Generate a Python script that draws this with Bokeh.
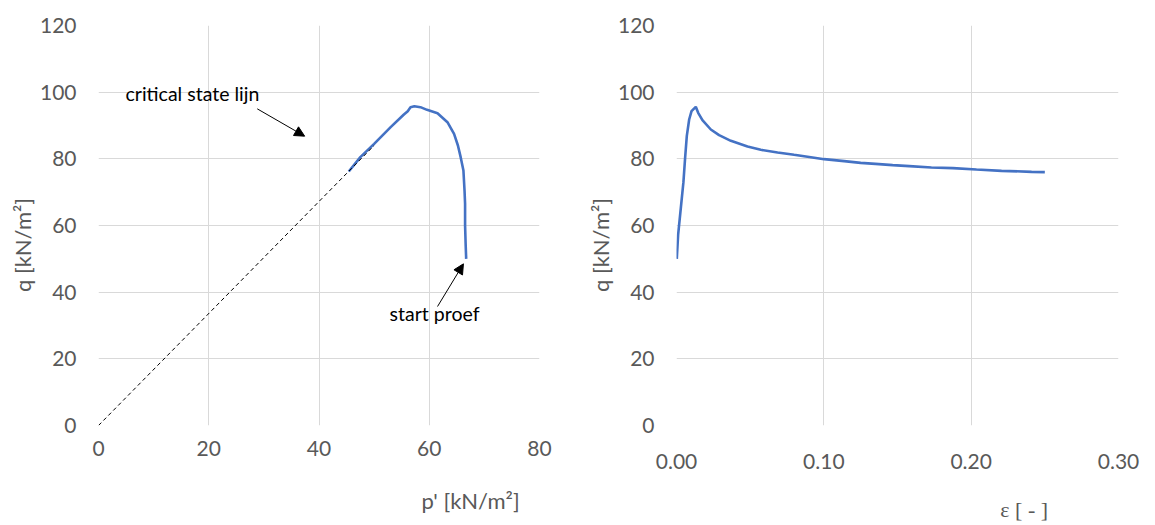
from bokeh.plotting import figure
from bokeh.layouts import row
from bokeh.models import (Range1d, FixedTicker, Label, Arrow, NormalHead,
                          NumeralTickFormatter, LinearAxis)
from bokeh.embed import file_html
from bokeh.resources import INLINE

# Stress path in p'-q space
path_p = [66.7, 66.6, 66.5, 66.5, 66.4, 66.2, 65.7, 65.2, 64.5, 63.3, 61.5, 59.6,
          58.4, 57.3, 56.6, 56.1, 55.4, 53.0, 50.0, 47.5, 45.4]
path_q = [50.0, 54.5, 60.0, 66.5, 70.5, 76.5, 80.5, 84.0, 87.5, 91.0, 93.7, 94.7,
          95.5, 95.8, 95.5, 94.3, 93.3, 89.5, 84.5, 80.5, 76.2]

# Critical state line through the origin
csl_p = [0, 50]
csl_q = [0, 84]

# Deviator stress versus axial strain
strain = [0.0002, 0.0011, 0.0029, 0.0047, 0.0058, 0.0070, 0.0086, 0.0102, 0.0131,
          0.0147, 0.0176, 0.0233, 0.0289, 0.0369, 0.0482, 0.0572, 0.0686, 0.0798,
          0.0912, 0.1002, 0.1138, 0.125, 0.135, 0.1467, 0.158, 0.173, 0.1876,
          0.2036, 0.2206, 0.241, 0.250]
strain_q = [50.0, 57.2, 65.1, 73.0, 80.0, 86.9, 91.8, 94.3, 95.6, 93.8, 91.6, 88.8,
            87.1, 85.4, 83.7, 82.7, 81.9, 81.2, 80.5, 79.9, 79.3, 78.8, 78.5, 78.1,
            77.8, 77.4, 77.2, 76.8, 76.4, 76.1, 76.0]

q_ticks = [0, 20, 40, 60, 80, 100, 120]
p_ticks = [0, 20, 40, 60, 80]
strain_ticks = [0.0, 0.1, 0.2, 0.3]

BLUE = "#4472C4"
GREY = "#595959"
GRID = "#d9d9d9"
FONT = "Lato"


def bare(ax):
    ax.axis_line_color = None
    ax.major_tick_line_color = None
    ax.minor_tick_line_color = None
    ax.major_tick_out = 0
    ax.major_tick_in = 0
    ax.minor_tick_out = 0
    ax.minor_tick_in = 0
    ax.major_label_text_color = GREY


def style(p, x_ticks, x_standoff):
    p.xaxis.ticker = FixedTicker(ticks=x_ticks)
    p.yaxis.ticker = FixedTicker(ticks=q_ticks)
    for ax in (p.xaxis[0], p.yaxis[0]):
        bare(ax)
        ax.major_label_text_font = FONT
        ax.major_label_text_font_size = "21px"
    p.xaxis.major_label_standoff = x_standoff
    p.yaxis.major_label_standoff = 22
    p.xgrid.grid_line_color = GRID
    p.ygrid.grid_line_color = GRID
    p.outline_line_color = None
    p.background_fill_color = "white"
    p.border_fill_color = "white"


def caption(p, side, at, text, standoff, font=FONT):
    # an extra tickless axis whose single label serves as the axis title
    ax = LinearAxis(ticker=FixedTicker(ticks=[at]), major_label_overrides={at: text},
                    major_label_standoff=standoff, major_label_text_font=font,
                    major_label_text_font_size="22px")
    bare(ax)
    if side == "left":
        ax.major_label_orientation = "vertical"
    p.add_layout(ax, side)


def note(p, x, y, text):
    p.add_layout(Label(x=x, y=y, text=text, text_align="left", text_baseline="middle",
                       text_color="black", text_font=FONT, text_font_size="19.5px"))


def pointer(p, x0, y0, x1, y1):
    p.add_layout(Arrow(x_start=x0, y_start=y0, x_end=x1, y_end=y1,
                       line_color="black", line_width=1,
                       end=NormalHead(size=10, fill_color="black", line_color="black")))


# Left panel: p'-q stress path
left = figure(width=577, height=525, output_backend="svg", toolbar_location=None,
              x_range=Range1d(0, 80), y_range=Range1d(0, 120),
              min_border_left=98, min_border_right=38,
              min_border_top=25, min_border_bottom=100)
style(left, p_ticks, 15)
left.line(path_p, path_q, line_color=BLUE, line_width=2.6)
left.line(csl_p, csl_q, line_color="black", line_width=1, line_dash="4 3")

note(left, 4.9, 99.5, "critical state lijn")
pointer(left, 28.8, 95.0, 37.4, 86.8)
note(left, 52.8, 33.6, "start proef")
pointer(left, 61.5, 35.7, 66.2, 48.5)

caption(left, "below", 68, "p'  [kN/m²]", 28)
caption(left, "left", 55, "q  [kN/m²]", 0)

# Right panel: q versus axial strain
right = figure(width=578, height=525, output_backend="svg", toolbar_location=None,
               x_range=Range1d(0, 0.3), y_range=Range1d(0, 120),
               min_border_left=99, min_border_right=37,
               min_border_top=21, min_border_bottom=99)
style(right, strain_ticks, 28)
right.xaxis.formatter = NumeralTickFormatter(format="0.00")
right.line(strain, strain_q, line_color=BLUE, line_width=2.6)

caption(right, "below", 0.236, "ε [ - ]", 25, font="Liberation Serif")
caption(right, "left", 55, "q  [kN/m²]", 0)

layout = row(left, right)
open("out.html", "w").write(file_html(layout, INLINE))
